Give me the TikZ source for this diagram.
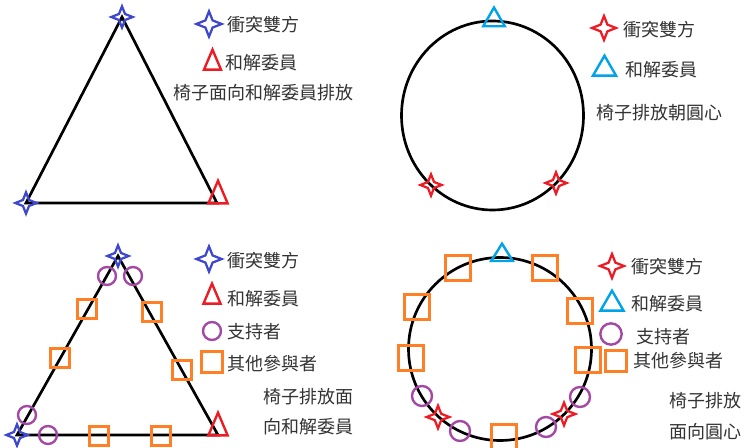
\documentclass[tikz,border=0pt]{standalone}
\usepackage{fontspec}
\newfontfamily\cjk{Noto Sans CJK TC}
\usetikzlibrary{shapes.geometric}

\definecolor{partyblue}{RGB}{63,72,204}
\definecolor{partyred}{RGB}{237,28,36}
\definecolor{mediatorcyan}{RGB}{0,162,232}
\definecolor{backerpurple}{RGB}{163,73,164}
\definecolor{otherorange}{RGB}{255,127,39}

\tikzset{
  seatline/.style={draw=black, line width=2pt},
  party/.style={star, star points=4, star point ratio=2.5, draw, line width=1.7pt,
    inner sep=0pt, minimum size=16pt},
  mediator/.style={isosceles triangle, isosceles triangle apex angle=46,
    shape border rotate=90, draw, line width=1.8pt, inner sep=0pt, minimum height=17pt},
  backer/.style={circle, draw=backerpurple, line width=1.8pt, inner sep=0pt, minimum size=13.5pt},
  other/.style={rectangle, draw=otherorange, line width=1.8pt, inner sep=0pt, minimum size=14pt},
  legendtext/.style={anchor=west, inner sep=0pt, text=black!80,
    font=\cjk\fontsize{13.5pt}{16pt}\selectfont},
}

\begin{document}
\begin{tikzpicture}[x=0.75pt, y=-0.75pt]
  \useasboundingbox (0,0) rectangle (748,448);

  % top left: triangle
  \coordinate (a1) at (122,17);
  \coordinate (b1) at (26,203);
  \coordinate (c1) at (217,203);
  \draw[seatline] (a1) -- (b1) -- (c1) -- cycle;
  \node[party, partyblue] (a1star) at (a1) {};
  \node[party, partyblue] (b1star) at (b1) {};
  \node[mediator, partyred] (c1tri) at (218,197) {};
  \node[party, partyblue, minimum size=19pt] (key1star) at (209,24) {};
  \node[legendtext] (key1startext) at (227,25) {衝突雙方};
  \node[mediator, partyred, minimum height=15pt] (key1tri) at (212.5,64) {};
  \node[legendtext] (key1tritext) at (225,63) {和解委員};
  \node[legendtext] (note1) at (173,93) {椅子面向和解委員排放};

  % top right: circle
  \coordinate (o2) at (492.5,115.5);
  \draw[seatline] (o2) ellipse [x radius=91, y radius=94.5];
  \node[mediator, mediatorcyan, isosceles triangle apex angle=60, minimum height=14pt] (a2tri) at (494,20) {};
  \node[party, partyred] (b2star) at (431,185) {};
  \node[party, partyred] (c2star) at (556,183) {};
  \node[party, partyred, minimum size=18pt] (key2star) at (604,28) {};
  \node[legendtext] (key2startext) at (623,30) {衝突雙方};
  \node[mediator, mediatorcyan, isosceles triangle apex angle=60, minimum height=15pt] (key2tri) at (604.5,69) {};
  \node[legendtext] (key2tritext) at (625,70) {和解委員};
  \node[legendtext] (note2) at (596,113) {椅子排放朝圓心};

  % bottom left: triangle with supporters
  \coordinate (a3) at (118,256);
  \coordinate (b3) at (17,435);
  \coordinate (c3) at (218,435);
  \draw[seatline] (a3) -- (b3) -- (c3) -- cycle;
  \foreach \x/\y [count=\i] in {107/276,133/276,27/415,48/435}
    \node[backer] (s3\i) at (\x,\y) {};
  \foreach \x/\y [count=\i] in {87/309,152/312,60/358,182/370,99/436,161/436}
    \node[other] (o3\i) at (\x,\y) {};
  \node[party, partyblue] (a3star) at (a3) {};
  \node[party, partyblue] (b3star) at (b3) {};
  \node[mediator, partyred] (c3tri) at (218,429) {};
  \node[party, partyblue, minimum size=19pt] (key3star) at (209,259) {};
  \node[legendtext] (key3startext) at (227,261) {衝突雙方};
  \node[mediator, partyred, minimum height=15pt] (key3tri) at (212,298) {};
  \node[legendtext] (key3tritext) at (227,299) {和解委員};
  \node[backer] (key3circ) at (212,331) {};
  \node[legendtext] (key3circtext) at (227,332) {支持者};
  \node[other, minimum size=15.5pt] (key3sq) at (212,362) {};
  \node[legendtext] (key3sqtext) at (227,364) {其他參與者};
  \node[legendtext] (note3a) at (263,397) {椅子排放面};
  \node[legendtext] (note3b) at (263,427) {向和解委員};

  % bottom right: circle with supporters
  \coordinate (o4) at (500,349);
  \draw[seatline] (o4) circle [radius=91.5];
  \foreach \x/\y [count=\i] in {458/268,545/268,417/307,580/311,411/358,588/360,504/437}
    \node[other, minimum size=19pt] (o4\i) at (\x,\y) {};
  \foreach \x/\y [count=\i] in {422/396,460/431,546/427,580/397}
    \node[backer, minimum size=15pt] (s4\i) at (\x,\y) {};
  \node[mediator, mediatorcyan, isosceles triangle apex angle=64, minimum height=13pt] (a4tri) at (502,255) {};
  \node[party, partyred, minimum size=17pt] (b4star) at (438,417) {};
  \node[party, partyred, minimum size=17pt] (c4star) at (564,414) {};
  \node[party, partyred, minimum size=18pt] (key4star) at (612,266) {};
  \node[legendtext] (key4startext) at (631,267) {衝突雙方};
  \node[mediator, mediatorcyan, isosceles triangle apex angle=60, minimum height=15pt] (key4tri) at (612,304) {};
  \node[legendtext] (key4tritext) at (631,304) {和解委員};
  \node[backer, minimum size=16pt] (key4circ) at (611,334) {};
  \node[legendtext] (key4circtext) at (636,337) {支持者};
  \node[other, minimum size=15.5pt] (key4sq) at (616,361) {};
  \node[legendtext] (key4sqtext) at (633,361) {其他參與者};
  \node[legendtext] (note4a) at (669,401) {椅子排放};
  \node[legendtext] (note4b) at (669,432) {面向圓心};
\end{tikzpicture}
\end{document}
